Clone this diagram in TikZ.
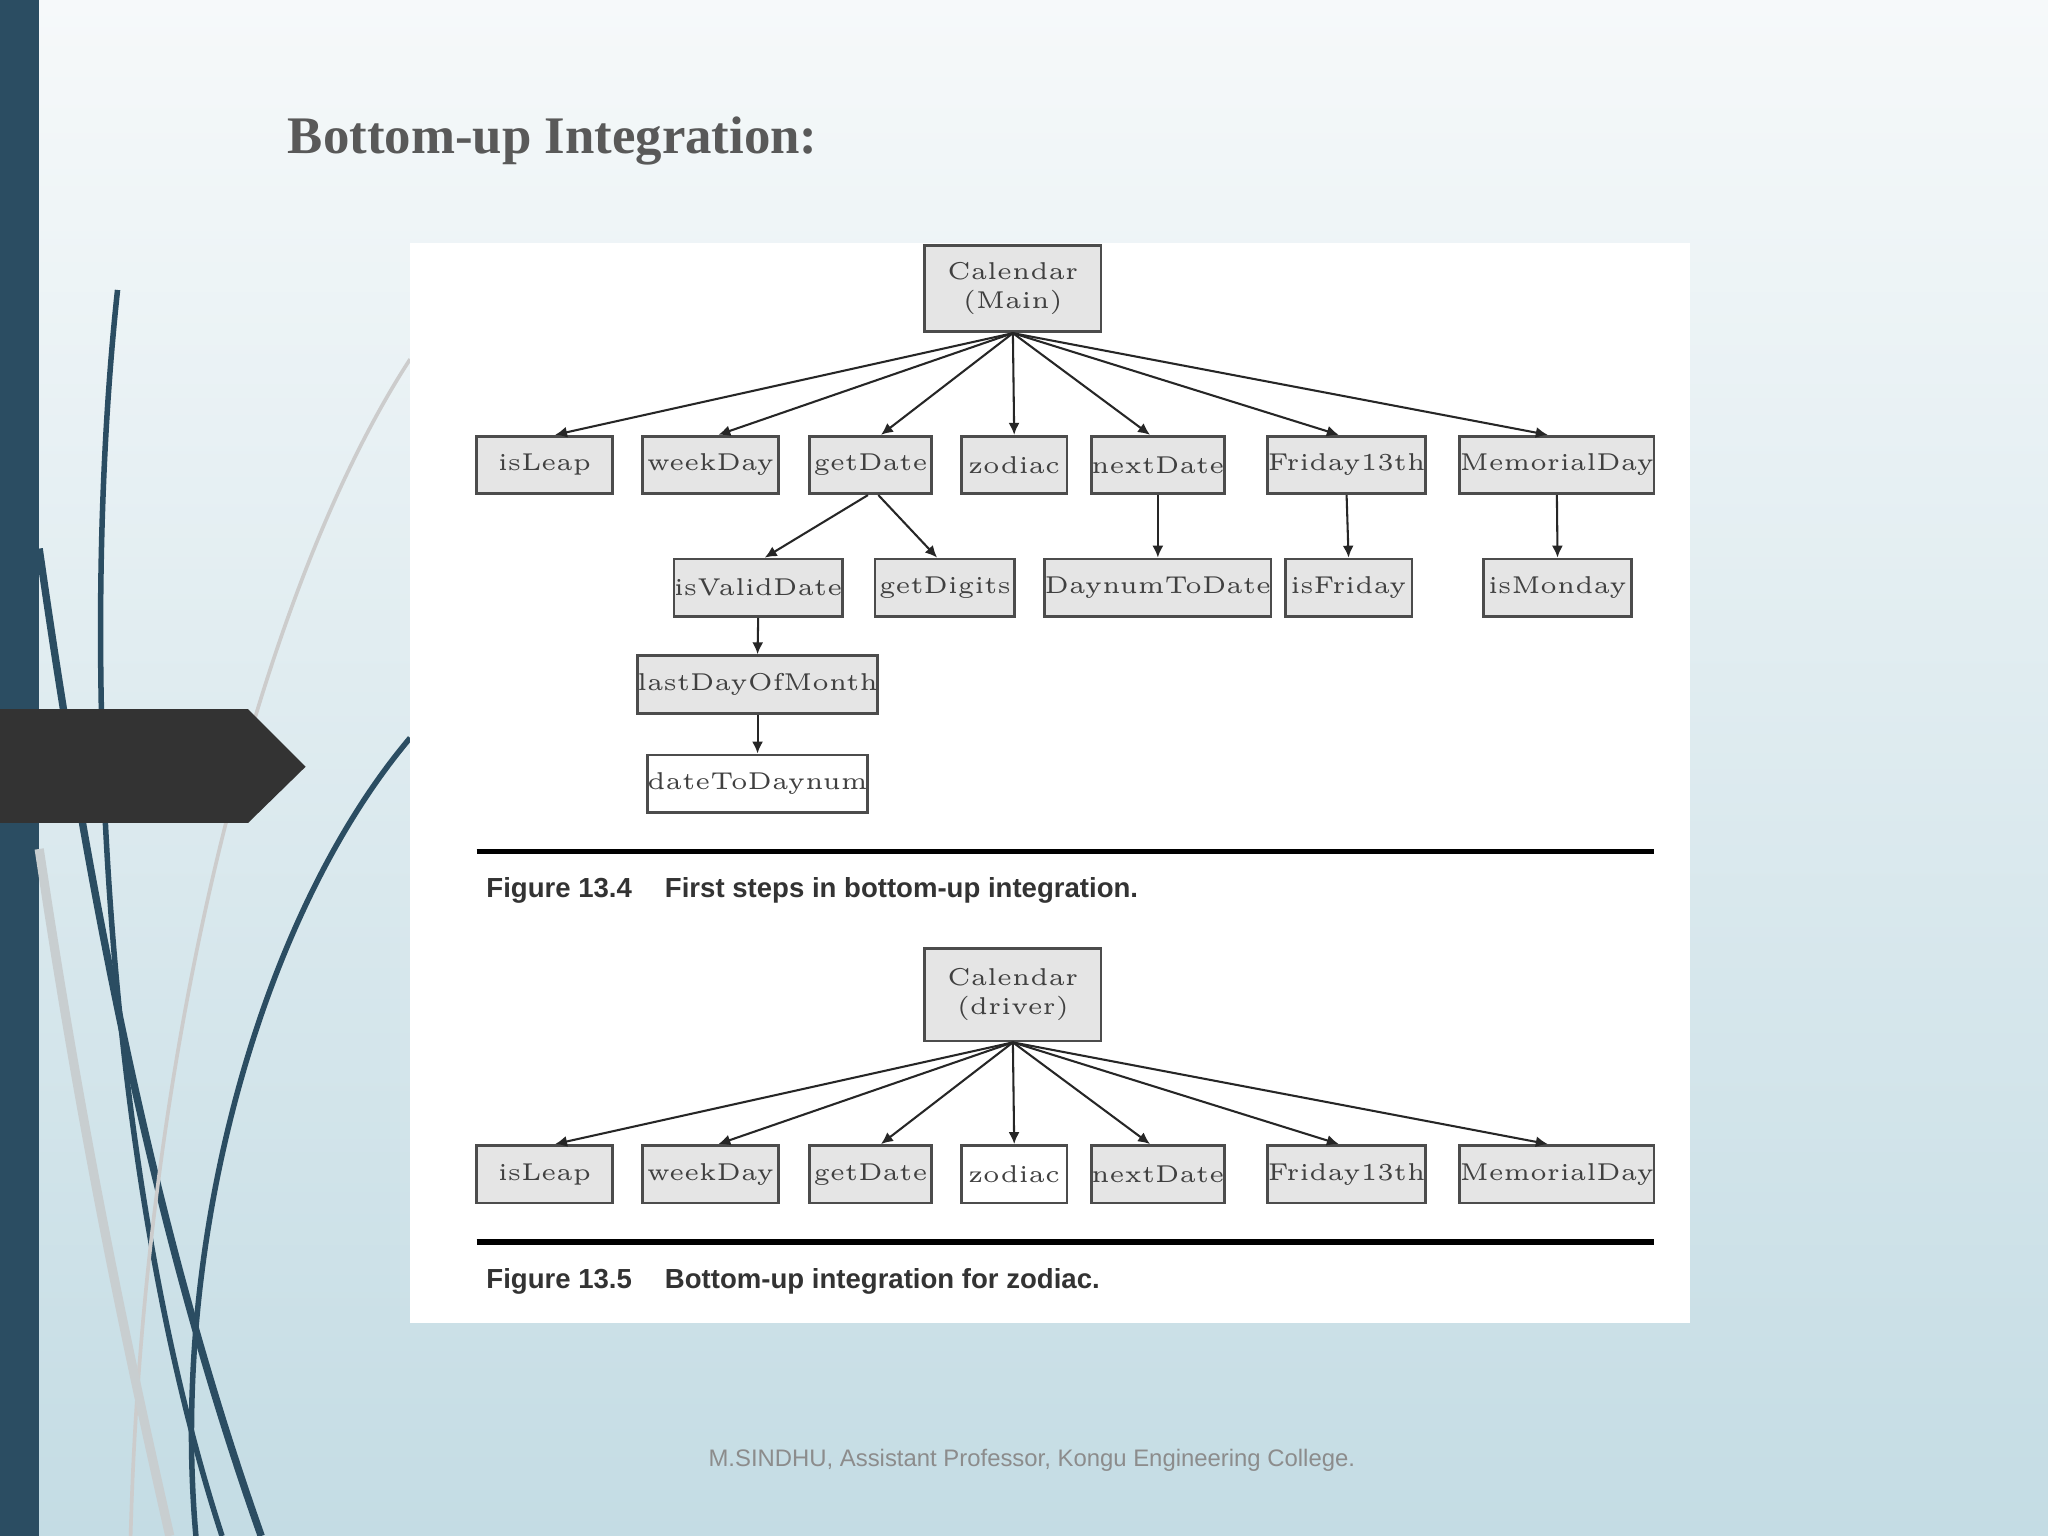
\documentclass[tikz,border=0pt]{standalone}
\usepackage{fontspec}
\setmainfont{Latin Modern Roman}
\newfontfamily\libsans{Liberation Sans}
\newfontfamily\libserif{Liberation Serif}
\usetikzlibrary{arrows.meta}
\definecolor{bar}{HTML}{2B4D62}
\definecolor{bgtop}{HTML}{F6F9FA}
\definecolor{bgbot}{HTML}{C4DCE4}
\begin{document}
\begin{tikzpicture}[x=0.01cm,y=-0.01cm,
  box/.style={draw=black!70,line width=0.6pt,fill=black!10,minimum height=0.44cm,inner sep=0pt,text=black!75,font=\fontsize{5.3pt}{6.3pt}\selectfont,align=center},
  w/.style={minimum width=#1*0.01cm},
  arr/.style={line width=0.45pt,black!85,-{Latex[length=2.6pt,width=2.4pt]}},
  figcap/.style={anchor=west,font=\libsans\bfseries\fontsize{6pt}{7pt}\selectfont,text=black!80}]
\useasboundingbox (0,0) rectangle (1568,1176);
\shade[top color=bgtop,bottom color=bgbot] (0,0) rectangle (1568,1176);
\fill[bar] (0,0) rectangle (30,1176);
% decorative curves
\draw[bar,line width=1.2pt] (90,222) .. controls (60,500) and (80,900) .. (170,1176);
\draw[bar,line width=1.6pt] (30,420) .. controls (70,700) and (120,950) .. (200,1176);
\draw[bar,line width=1.2pt] (314,565) .. controls (200,700) and (130,950) .. (150,1176);
\draw[black!20,line width=0.8pt] (314,275) .. controls (200,450) and (110,800) .. (100,1176);
\draw[bgbot!60!black!40,line width=2pt] (30,650) .. controls (60,850) and (90,1000) .. (130,1176);
\fill[black!80] (0,543) -- (190,543) -- (234,587) -- (190,630) -- (0,630) -- cycle;
\node[anchor=west,font=\libserif\bfseries\fontsize{11.5pt}{13pt}\selectfont,text=black!65] (title) at (208,108) {Bottom-up Integration:};
\fill[white] (314,186) rectangle (1294,1013);
% Figure 13.4
\node[box,w=135,minimum height=0.66cm] (cal) at (775.5,221) {Calendar\\(Main)};
\node[box,w=104] (a1) at (417,356) {isLeap};
\node[box,w=104] (a2) at (544,356) {weekDay};
\node[box,w=93] (a3) at (666.5,356) {getDate};
\node[box,w=81] (a4) at (776.5,356) {zodiac};
\node[box,w=101] (a5) at (886.5,356) {nextDate};
\node[box,w=118] (a6) at (1031,356) {Friday13th};
\node[box,w=148] (a7) at (1192,356) {MemorialDay};
\node[box,w=129] (b1) at (580.5,450) {isValidDate};
\node[box,w=107] (b2) at (723.5,450) {getDigits};
\node[box,w=165] (b3) at (886.5,450) {DaynumToDate};
\node[box,w=97] (b4) at (1032.5,450) {isFriday};
\node[box,w=113] (b5) at (1192.5,450) {isMonday};
\node[box,w=178] (c1) at (580,524) {lastDayOfMonth};
\node[box,w=162,fill=white] (c2) at (580,600) {dateToDaynum};
\foreach \t/\dx in {a1/8,a2/6,a3/8,a4/0,a5/-6,a6/-6,a7/-7}
  \draw[arr] (cal.south) -- ([xshift=\dx*0.01cm]\t.north);
\draw[arr] ([xshift=-0.02cm]a3.south) -- ([xshift=0.05cm]b1.north);
\draw[arr] ([xshift=0.06cm]a3.south) -- ([xshift=-0.06cm]b2.north);
\draw[arr] (a5.south) -- (b3.north);
\draw[arr] (a6.south) -- (b4.north);
\draw[arr] (a7.south) -- (b5.north);
\draw[arr] (b1.south) -- (c1.north);
\draw[arr] (c1.south) -- (c2.north);
\coordinate (r1a) at (365,652); \coordinate (r1b) at (1266,652);
\draw[line width=1.2pt] (r1a) -- (r1b);
\node[figcap] (cap1) at (360,682) {Figure 13.4\hspace{1.2em}First steps in bottom-up integration.};
% Figure 13.5
\node[box,w=135,minimum height=0.71cm] (cal2) at (775.5,761.5) {Calendar\\(driver)};
\node[box,w=104] (d1) at (417,899) {isLeap};
\node[box,w=104] (d2) at (544,899) {weekDay};
\node[box,w=93] (d3) at (666.5,899) {getDate};
\node[box,w=81,fill=white] (d4) at (776.5,899) {zodiac};
\node[box,w=101] (d5) at (886.5,899) {nextDate};
\node[box,w=118] (d6) at (1031,899) {Friday13th};
\node[box,w=148] (d7) at (1192,899) {MemorialDay};
\foreach \t/\dx in {d1/8,d2/6,d3/8,d4/0,d5/-6,d6/-6,d7/-7}
  \draw[arr] (cal2.south) -- ([xshift=\dx*0.01cm]\t.north);
\coordinate (r2a) at (365,951); \coordinate (r2b) at (1266,951);
\draw[line width=1.2pt] (r2a) -- (r2b);
\node[figcap] (cap2) at (360,981) {Figure 13.5\hspace{1.2em}Bottom-up integration for zodiac.};
\node[font=\libsans\fontsize{5.2pt}{6pt}\selectfont,text=black!45] (foot) at (790,1118) {M.SINDHU, Assistant Professor, Kongu Engineering College.};
\end{tikzpicture}
\end{document}
